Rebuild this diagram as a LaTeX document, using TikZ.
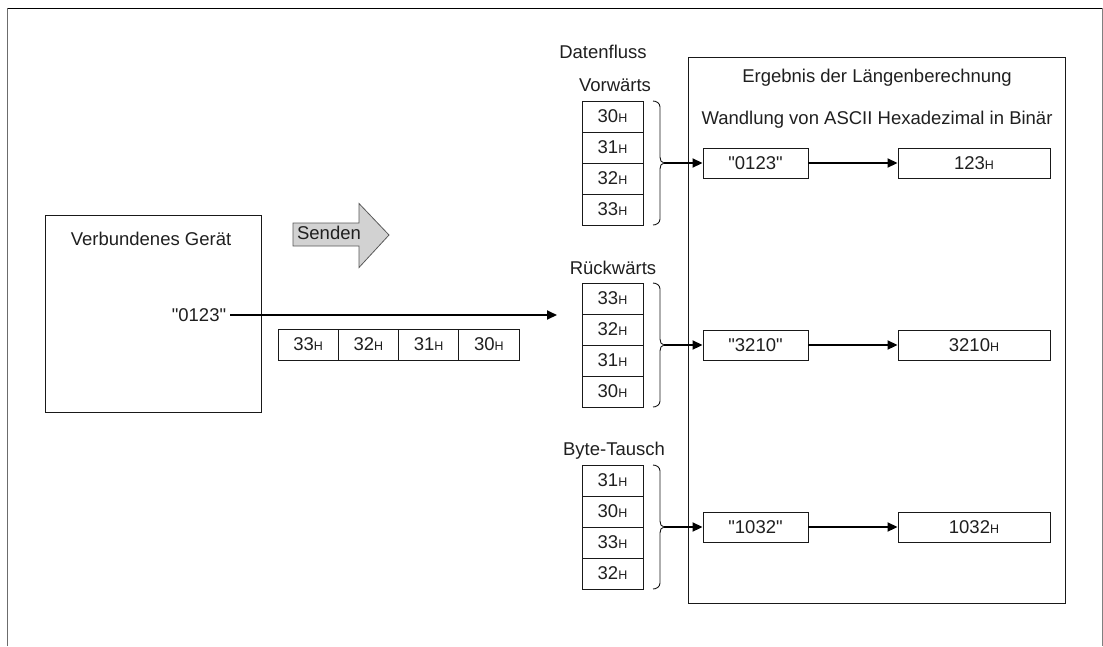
\documentclass[tikz,border=0pt]{standalone}
\usepackage{fontspec}
\setmainfont{Liberation Sans}[Ligatures=TeXOff]
\usetikzlibrary{arrows.meta}
\newcommand{\hsub}{{\fontsize{12.5pt}{12.5pt}\selectfont H}}
\newcommand{\sq}{"}
\begin{document}
\begin{tikzpicture}[x=1pt,y=-1pt,
  every node/.style={font=\fontsize{18.5pt}{20pt}\selectfont, text=black!88},
  box/.style={draw=black!90, line width=0.9pt, inner sep=0pt},
  cell/.style={draw=black!90, line width=0.9pt, minimum width=61pt, minimum height=31pt, inner sep=0pt},
  rowcell/.style={draw=black!90, line width=0.9pt, minimum width=60.25pt, minimum height=31pt, inner sep=0pt},
  res/.style={draw=black!90, line width=0.9pt, minimum height=30pt, inner sep=0pt},
  conn/.style={line width=1.8pt, -{Triangle[length=10pt,width=9pt]}},
  bracestyle/.style={line width=0.9pt, black!90},
  lbl/.style={inner sep=0pt}
]
\useasboundingbox (0,0) rectangle (1103,646);

% outer frame
\draw[gray!85!black, line width=1pt] (7.5,646) -- (7.5,8);
\draw[black, line width=1pt] (7.5,8) -- (1102,8);
\draw[gray, line width=1pt] (1102,8) -- (1102,646);

% connected device
\node[box, minimum width=216pt, minimum height=197pt] (dev) at (153,313.5) {};
\node[lbl] (devt) at (151,239) {Verbundenes Gerät};
\node[lbl] (s0123) at (199,315) {\sq0123\sq};
\coordinate (sendend) at (557,315);
\draw[conn] ([xshift=4pt]s0123.east) -- (sendend);

% row of transmitted bytes
\node[rowcell] (t1) at (308.1,344.5) {33\hsub};
\node[rowcell] (t2) at (368.4,344.5) {32\hsub};
\node[rowcell] (t3) at (428.6,344.5) {31\hsub};
\node[rowcell] (t4) at (488.9,344.5) {30\hsub};

% Senden arrow
\draw[fill=gray!35, draw=black!65, line width=0.8pt]
  (293,223) -- (359,223) -- (359,203.5) -- (389,235) -- (359,267.5) -- (359,246) -- (293,246) -- cycle;
\node[lbl] (senden) at (329,233) {Senden};

% big result box
\node[box, minimum width=377pt, minimum height=546pt] (big) at (876.5,330) {};
\node[lbl] (bigt) at (877,78) {Ergebnis der Längenberechnung};
\node[lbl] (bigs) at (877,120) {Wandlung von ASCII Hexadezimal in Binär};

% Datenfluss label
\node[lbl] (df) at (603,52) {Datenfluss};

% Vorwaerts
\node[lbl] (vl) at (615,85) {Vorwärts};
\node[cell] (v1) at (612.5,116.5) {30\hsub};
\node[cell] (v2) at (612.5,147.5) {31\hsub};
\node[cell] (v3) at (612.5,178.5) {32\hsub};
\node[cell] (v4) at (612.5,209.5) {33\hsub};
\coordinate (vt) at (664,163);
\draw[bracestyle] (653,101) to[out=0,in=90] (660,107) -- (660,157) to[out=-90,in=180] (vt)
  to[out=180,in=90] (660,169) -- (660,219) to[out=-90,in=0] (653,225);
\node[res, minimum width=105pt] (va) at (755.5,163) {\sq0123\sq};
\node[res, minimum width=152pt] (vb) at (974,163) {123\hsub};
\draw[conn] (vt) -- (va.west);
\draw[conn] (va.east) -- (vb.west);

% Rueckwaerts
\node[lbl] (rl) at (613,268) {Rückwärts};
\node[cell] (r1) at (612.5,298.5) {33\hsub};
\node[cell] (r2) at (612.5,329.5) {32\hsub};
\node[cell] (r3) at (612.5,360.5) {31\hsub};
\node[cell] (r4) at (612.5,391.5) {30\hsub};
\coordinate (rt) at (664,345);
\draw[bracestyle] (653,283) to[out=0,in=90] (660,289) -- (660,339) to[out=-90,in=180] (rt)
  to[out=180,in=90] (660,351) -- (660,401) to[out=-90,in=0] (653,407);
\node[res, minimum width=105pt] (ra) at (755.5,345) {\sq3210\sq};
\node[res, minimum width=152pt] (rb) at (974,345) {3210\hsub};
\draw[conn] (rt) -- (ra.west);
\draw[conn] (ra.east) -- (rb.west);

% Byte-Tausch
\node[lbl] (bl) at (614,451) {Byte-Tausch};
\node[cell] (b1) at (612.5,480.5) {31\hsub};
\node[cell] (b2) at (612.5,511.5) {30\hsub};
\node[cell] (b3) at (612.5,542.5) {33\hsub};
\node[cell] (b4) at (612.5,573.5) {32\hsub};
\coordinate (bt) at (664,527);
\draw[bracestyle] (653,465) to[out=0,in=90] (660,471) -- (660,521) to[out=-90,in=180] (bt)
  to[out=180,in=90] (660,533) -- (660,583) to[out=-90,in=0] (653,589);
\node[res, minimum width=105pt] (ba) at (755.5,527) {\sq1032\sq};
\node[res, minimum width=152pt] (bb) at (974,527) {1032\hsub};
\draw[conn] (bt) -- (ba.west);
\draw[conn] (ba.east) -- (bb.west);
\end{tikzpicture}
\end{document}
